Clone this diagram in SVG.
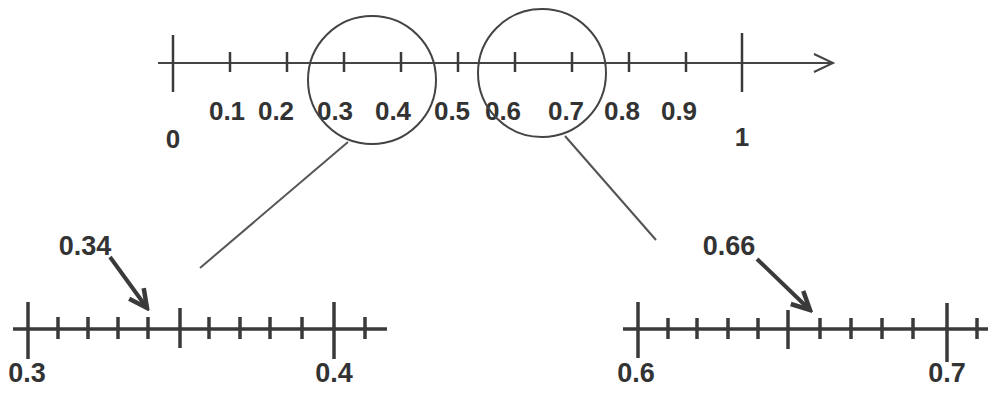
<svg xmlns="http://www.w3.org/2000/svg" width="988" height="393" viewBox="0 0 988 393">
<defs>
<style>
.t{font-family:"Liberation Sans",Arial,sans-serif;font-weight:bold;fill:#333;text-anchor:middle}
.ts{font-size:26px}
.tb{font-size:27px}
.axis{stroke:#444;stroke-width:2;fill:none}
.axb{stroke:#3a3a3a;stroke-width:3.5;fill:none}
.tk{stroke:#3a3a3a;stroke-width:2.5}
.tkb{stroke:#3a3a3a;stroke-width:3.5}
.ring{stroke:#444;stroke-width:2;fill:none}
.link{stroke:#555;stroke-width:2;fill:none}
.ptr{stroke:#3a3a3a;stroke-width:4;fill:none;marker-end:url(#head)}
</style>
<marker id="head" markerUnits="userSpaceOnUse" viewBox="0 0 24 24" refX="21" refY="12" markerWidth="24" markerHeight="24" orient="auto">
<path d="M3,3 L21,12 L3,21" fill="none" stroke="#3a3a3a" stroke-width="4.5" stroke-linejoin="miter"/>
</marker>
</defs>
<rect width="988" height="393" fill="#fff"/>

<g id="top-line">
<line class="axis" x1="158" y1="63" x2="832" y2="63"/>
<path class="axis" d="M814,54 L833,63 L814,72"/>
<line class="tk" x1="173" y1="35" x2="173" y2="92"/>
<line class="tk" x1="742" y1="33" x2="742" y2="92"/>
<g class="tk">
<line x1="230" y1="52" x2="230" y2="72"/>
<line x1="287" y1="52" x2="287" y2="72"/>
<line x1="344" y1="52" x2="344" y2="72"/>
<line x1="401" y1="52" x2="401" y2="72"/>
<line x1="458" y1="52" x2="458" y2="72"/>
<line x1="515" y1="52" x2="515" y2="72"/>
<line x1="572" y1="52" x2="572" y2="72"/>
<line x1="629" y1="52" x2="629" y2="72"/>
<line x1="686" y1="52" x2="686" y2="72"/>
</g>
<g class="t ts">
<text x="173" y="148">0</text>
<text x="227" y="120">0.1</text>
<text x="276" y="120">0.2</text>
<text x="335" y="120">0.3</text>
<text x="393" y="120">0.4</text>
<text x="452" y="120">0.5</text>
<text x="503" y="120">0.6</text>
<text x="566" y="120">0.7</text>
<text x="622" y="120">0.8</text>
<text x="679" y="120">0.9</text>
<text x="742" y="146">1</text>
</g>
</g>

<g id="zoom-circle-left"><circle class="ring" cx="372" cy="80" r="64"/></g>
<g id="zoom-circle-right"><circle class="ring" cx="542" cy="73" r="64"/></g>

<g id="connectors">
<line class="link" x1="348" y1="142" x2="200" y2="268"/>
<line class="link" x1="565" y1="136" x2="656" y2="240"/>
<line class="ptr" x1="110" y1="257" x2="147" y2="308"/>
<line class="ptr" x1="757" y1="259" x2="810" y2="310"/>
</g>

<g id="bottom-left">
<line class="axb" x1="13" y1="329" x2="387" y2="329"/>
<line class="tkb" x1="28" y1="302" x2="28" y2="359"/>
<line class="tkb" x1="180" y1="308" x2="180" y2="348"/>
<line class="tkb" x1="334" y1="302" x2="334" y2="359"/>
<g class="tkb">
<line x1="58" y1="317" x2="58" y2="339"/>
<line x1="88" y1="317" x2="88" y2="339"/>
<line x1="118" y1="317" x2="118" y2="339"/>
<line x1="148" y1="317" x2="148" y2="339"/>
<line x1="209" y1="317" x2="209" y2="339"/>
<line x1="240" y1="317" x2="240" y2="339"/>
<line x1="270" y1="317" x2="270" y2="339"/>
<line x1="302" y1="317" x2="302" y2="339"/>
<line x1="365" y1="317" x2="365" y2="339"/>
</g>
<g class="t tb">
<text x="85" y="255">0.34</text>
<text x="27" y="382">0.3</text>
<text x="334" y="382">0.4</text>
</g>
</g>

<g id="bottom-right">
<line class="axb" x1="623" y1="329" x2="988" y2="329"/>
<line class="tkb" x1="638" y1="302" x2="638" y2="358"/>
<line class="tkb" x1="788" y1="310" x2="788" y2="349"/>
<line class="tkb" x1="947" y1="303" x2="947" y2="362"/>
<g class="tkb">
<line x1="668" y1="318" x2="668" y2="339"/>
<line x1="697" y1="318" x2="697" y2="339"/>
<line x1="728" y1="318" x2="728" y2="339"/>
<line x1="758" y1="318" x2="758" y2="339"/>
<line x1="820" y1="318" x2="820" y2="339"/>
<line x1="851" y1="318" x2="851" y2="339"/>
<line x1="882" y1="318" x2="882" y2="339"/>
<line x1="913" y1="318" x2="913" y2="339"/>
<line x1="977" y1="318" x2="977" y2="339"/>
</g>
<g class="t tb">
<text x="729" y="255">0.66</text>
<text x="636" y="382">0.6</text>
<text x="947" y="382">0.7</text>
</g>
</g>
</svg>
